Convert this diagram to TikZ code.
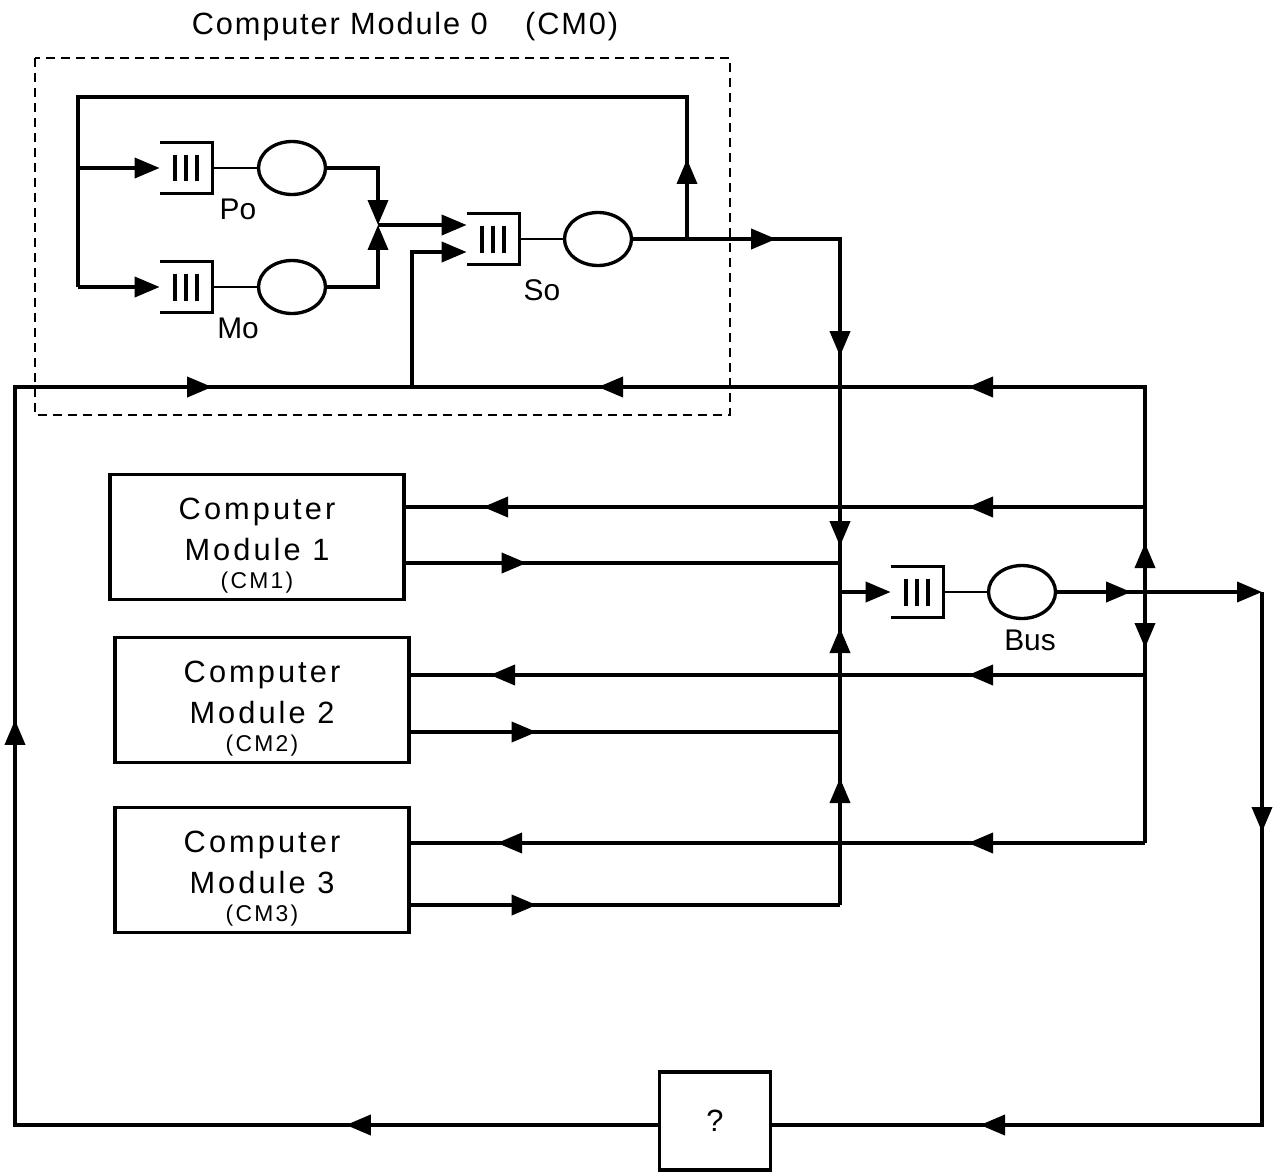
\documentclass[tikz,border=0pt]{standalone}
\usepackage{fontspec}
\setmainfont{Liberation Sans}
\newfontfamily\modfont{Liberation Sans}[LetterSpace=10]
\newfontfamily\titlefont{Liberation Sans}[LetterSpace=6]
\usetikzlibrary{arrows.meta, positioning, shapes.geometric, decorations.markings}
\tikzset{
  wire/.style={line width=2.1pt},
  link/.style={line width=1.6pt},
  flow/.style={postaction={decorate, decoration={markings,
      mark=at position #1*0.02cm with {\arrow{>}}}}},
  fifo/.style={minimum width=1.04cm, minimum height=1.0cm, inner sep=0pt},
  qline/.style={line width=1.7pt},
  server/.style={ellipse, draw, line width=1.9pt, minimum width=1.34cm,
    minimum height=1.06cm, inner sep=0pt},
  module/.style={draw, line width=1.9pt, minimum width=5.88cm, minimum height=2.5cm,
    align=center, font=\modfont\fontsize{17.5}{23}\selectfont},
  lbl/.style={font=\fontsize{17}{20}\selectfont},
}
\newcommand{\fifo}[3]{%
  \node[fifo] (#1) at (#2,#3) {};
  \draw[qline] (#1.north west) -- (#1.north east) -- (#1.south east) -- (#1.south west);
  \foreach \dx in {-0.22,0,0.22}
    \draw[line width=2.2pt] ([xshift=\dx cm, yshift=0.27cm]#1.center) -- ++(0cm,-0.54cm);
}
\newcommand{\cmsize}{\fontsize{13}{15}\selectfont}
\newcommand{\toprule}{\rule{0pt}{22pt}}

\begin{document}
\begin{tikzpicture}[x=0.02cm, y=-0.02cm, >={Triangle[length=0.5cm, width=0.4cm]}]

  \useasboundingbox (0,0) rectangle (1280,1173);

  %% Computer module 0
  \node[font=\titlefont\fontsize{17.5}{20}\selectfont] (title) at (405,27)
    {Computer Module 0\hspace{0.75cm}(CM0)};
  \draw[line width=1.6pt, dash pattern=on 0.18cm off 0.12cm] (35,58) rectangle (730,415);

  \fifo{po-q}{186}{168}
  \fifo{mo-q}{186}{287}
  \fifo{so-q}{493}{239}
  \node[server] (po-s) at (292,168) {};
  \node[server] (mo-s) at (292,287) {};
  \node[server] (so-s) at (598,239) {};
  \node[lbl] (po-l) at (238,209) {Po};
  \node[lbl] (mo-l) at (238,328) {Mo};
  \node[lbl] (so-l) at (542,290) {So};

  \coordinate (soT) at (687,239);
  \coordinate (topR) at (687,97);
  \coordinate (topL) at (78,97);
  \coordinate (poB) at (78,168);
  \coordinate (moB) at (78,287);
  \coordinate (poC) at (378,168);
  \coordinate (moC) at (378,287);
  \coordinate (mrg) at (378,225);
  \coordinate (retU) at (412,252);
  \coordinate (retJ) at (412,387);

  \draw[wire, flow=80] (soT) -- (topR) -- (topL) -- (moB);
  \draw[wire, ->] (poB) -- (po-q.west);
  \draw[wire, ->] (moB) -- (mo-q.west);
  \draw[link] (po-q.east) -- (po-s.west);
  \draw[link] (mo-q.east) -- (mo-s.west);
  \draw[wire, ->] (po-s.east) -- (poC) -- (mrg);
  \draw[wire, ->] (mo-s.east) -- (moC) -- (mrg);
  \draw[wire, ->] (mrg) -- (mrg -| so-q.west);
  \draw[wire, ->] (retJ) -- (retU) -- (retU -| so-q.west);
  \draw[link] (so-q.east) -- (so-s.west);

  %% Other modules
  \node[module] (cm1) at (257,537) {\toprule Computer\\Module 1\\[-7pt]{\cmsize (CM1)}};
  \node[module] (cm2) at (262,700) {\toprule Computer\\Module 2\\[-7pt]{\cmsize (CM2)}};
  \node[module] (cm3) at (262,870) {\toprule Computer\\Module 3\\[-7pt]{\cmsize (CM3)}};

  %% Bus
  \fifo{bus-q}{917}{592}
  \node[server] (bus-s) at (1022,592) {};
  \node[lbl] (bus-l) at (1030,640) {Bus};

  \coordinate (cm0R) at (840,239);
  \coordinate (busJ) at (840,592);
  \coordinate (colB) at (840,905);
  \coordinate (in1) at (840,563);
  \coordinate (in2) at (840,732);
  \coordinate (fbJ) at (1145,592);
  \coordinate (fb0) at (1145,387);
  \coordinate (fb1) at (1145,507);
  \coordinate (fb2) at (1145,675);
  \coordinate (fb3) at (1145,843);
  \coordinate (ringR) at (1262,592);
  \coordinate (ringRB) at (1262,1125);
  \coordinate (ringLB) at (15,1125);
  \coordinate (ringL) at (15,387);

  \draw[wire, flow=143, flow=324, flow=514] (so-s.east) -- (soT) -- (cm0R) -- (busJ);
  \draw[wire, flow=127, flow=277] (colB) -- (busJ);
  \draw[wire, ->] (busJ) -- (bus-q.west);
  \draw[link] (bus-q.east) -- (bus-s.west);
  \draw[wire, flow=121] (cm1.east |- in1) -- (in1);
  \draw[wire, flow=126] (cm2.east |- in2) -- (in2);
  \draw[wire, flow=126] (cm3.east |- colB) -- (colB);

  %% Feedback from bus
  \draw[wire, flow=74, ->] (bus-s.east) -- (fbJ) -- (ringR);
  \draw[wire, flow=49, flow=382, flow=752] (fbJ) -- (fb0) -- (retJ);
  \draw[wire, flow=56] (fbJ) -- (fb3);
  \draw[wire, flow=177, flow=662] (fb1) -- (fb1 -| cm1.east);
  \draw[wire, flow=177, flow=655] (fb2) -- (fb2 -| cm2.east);
  \draw[wire, flow=177, flow=648] (fb3) -- (fb3 -| cm3.east);

  %% Outer ring
  \node[draw, line width=1.9pt, minimum width=2.22cm, minimum height=1.96cm,
    font=\fontsize{17.5}{20}\selectfont] (q) at (715,1121) {?};
  \draw[wire, flow=240, flow=815] (ringR) -- (ringRB) -- (q.east |- ringRB);
  \draw[wire, flow=312, flow=1048, flow=1578] (q.west |- ringLB) -- (ringLB) -- (ringL) -- (retJ);

\end{tikzpicture}
\end{document}
